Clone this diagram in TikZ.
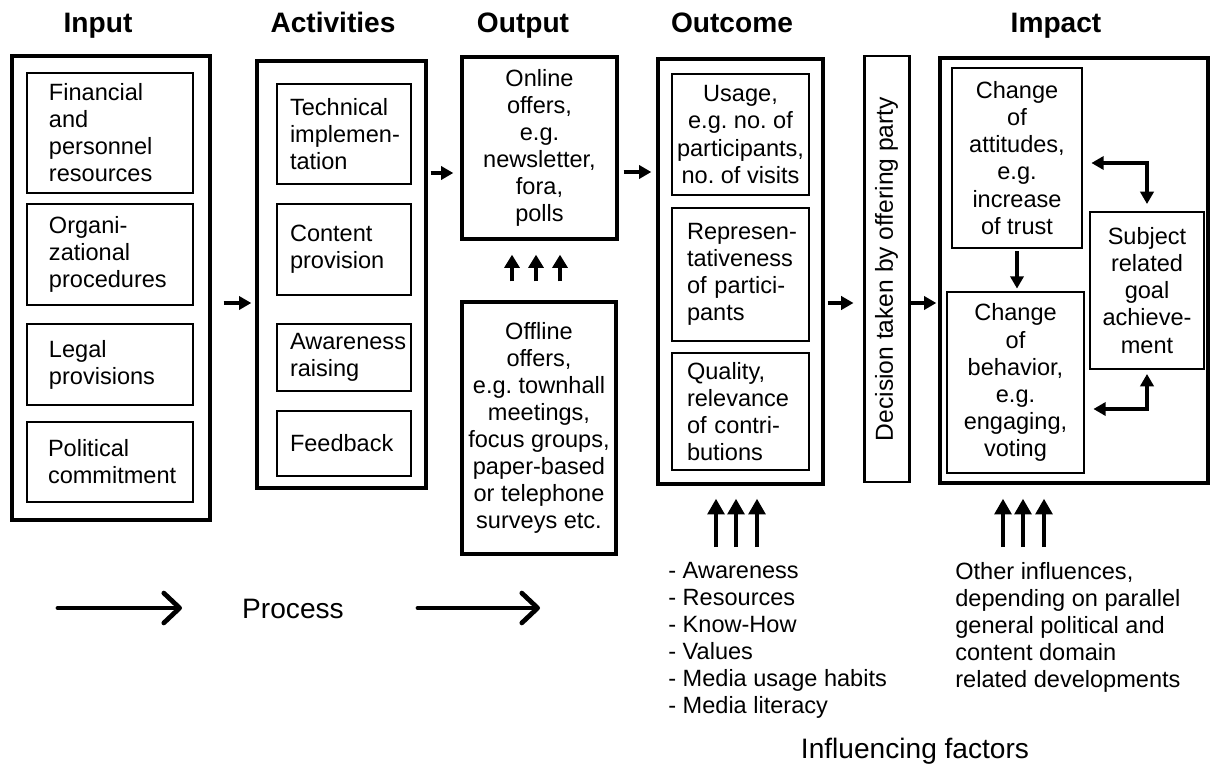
\documentclass[tikz,border=0pt]{standalone}
\usepackage{fontspec}
\setmainfont{Liberation Sans}
\usetikzlibrary{arrows.meta, positioning, calc}
\newdimen\px
\px=0.02cm
\hyphenpenalty=10000
\exhyphenpenalty=10000
\frenchspacing
\newcommand{\boxfont}{\fontsize{13.4}{15.4}\selectfont}
\tikzset{
	outerbox/.style={draw, line width=1.9pt, inner sep=0pt},
	thinbox/.style={draw, line width=1.1pt, inner xsep=2pt, align=center, font=\boxfont},
	midbox/.style={draw, line width=1.6pt, inner xsep=2pt, align=center, font=\boxfont},
	head/.style={anchor=base, font=\bfseries\fontsize{16}{19}\selectfont},
	big/.style={anchor=base, font=\fontsize{16}{19}\selectfont},
	factor/.style={anchor=north west, align=left, inner sep=0pt, font=\boxfont},
	conn/.style={line width=1.8pt, -{Triangle[length=7pt, width=7.5pt]}},
	elbow/.style={line width=1.8pt, {Triangle[length=7pt, width=7.5pt]}-{Triangle[length=7pt, width=7.5pt]}},
	smallup/.style={line width=2pt, -{Triangle[length=7.5pt, width=8.5pt]}},
	bigup/.style={line width=2.5pt, -{Triangle[length=9pt, width=9.5pt]}},
	processarrow/.style={line width=2.7pt, line cap=round, -{Straight Barb[length=9pt, width=17pt, line cap=round, line join=round]}}
}

\begin{document}
\begin{tikzpicture}[x=0.02cm, y=-0.02cm]
	\path[use as bounding box, fill=white] (0,0) rectangle (1210,767);
	\node[head] (hinput) at (98,33) {Input};
	\node[head] (hactivities) at (333,33) {Activities};
	\node[head] (houtput) at (523,33) {Output};
	\node[head] (houtcome) at (732,33) {Outcome};
	\node[head] (himpact) at (1056,33) {Impact};

	\node[outerbox, minimum width=198\px, minimum height=464\px] (input) at (111,288) {};
	\node[thinbox, align=left, inner xsep=22\px, text width=122\px, minimum height=120\px] (finance) at (110,133) {Financial\\and\\personnel\\resources};
	\node[thinbox, align=left, inner xsep=22\px, text width=122\px, minimum height=101\px] (procedures) at (110,254.5) {Organi-\\zational\\procedures};
	\node[thinbox, align=left, inner xsep=22\px, text width=122\px, minimum height=81\px] (legal) at (110,364.5) {Legal\\provisions};
	\node[thinbox, align=left, inner xsep=21\px, text width=124\px, minimum height=80\px] (politics) at (110,462) {Political\\commitment};

	\node[outerbox, minimum width=169\px, minimum height=427\px] (activities) at (341.5,274.5) {};
	\node[thinbox, align=left, inner xsep=13\px, text width=108\px, minimum height=100\px] (technical) at (344,134) {Technical\\implemen-\\tation};
	\node[thinbox, align=left, inner xsep=13\px, text width=108\px, minimum height=91\px] (content) at (344,249.5) {Content\\provision};
	\node[thinbox, align=left, inner xsep=13\px, text width=108\px, minimum height=67\px] (awareness) at (344,357.5) {Awareness\\raising};
	\node[thinbox, align=left, inner xsep=13\px, text width=108\px, minimum height=65\px] (feedback) at (344,443.5) {Feedback};

	\node[outerbox, font=\boxfont, align=center, minimum width=155\px, minimum height=182\px] (online) at (539.5,148) {Online\\offers,\\e.g.\\newsletter,\\fora,\\polls};
	\node[outerbox, font=\boxfont, align=center, minimum width=154\px, minimum height=252\px] (offline) at (539,428) {Offline\\offers,\\e.g. townhall\\meetings,\\focus groups,\\paper-based\\or telephone\\surveys etc.};

	\node[outerbox, minimum width=165\px, minimum height=425\px] (outcome) at (740.5,271.5) {};
	\node[midbox, minimum width=137\px, minimum height=121\px] (usage) at (740.5,134.5) {Usage,\\e.g. no. of\\participants,\\no. of visits};
	\node[midbox, align=left, inner xsep=15\px, text width=107\px, minimum height=133\px] (represent) at (740.5,274.5) {Represen-\\tativeness\\of partici-\\pants};
	\node[midbox, align=left, inner xsep=15\px, text width=107\px, minimum height=117\px] (quality) at (740.5,411.5) {Quality,\\relevance\\of contri-\\butions};

	\node[outerbox, line width=1.7pt, rotate=90, font=\fontsize{14}{17}\selectfont, minimum width=426\px, minimum height=45\px] (decision) at (886.5,269) {Decision taken by offering party};

	\node[outerbox, minimum width=268\px, minimum height=425\px] (impact) at (1074,270.5) {};
	\node[midbox, minimum width=130\px, minimum height=180\px] (attitude) at (1017,158) {Change\\of\\attitudes,\\e.g.\\increase\\of trust};
	\node[midbox, minimum width=137\px, minimum height=181\px] (behavior) at (1015.5,382.5) {Change\\of\\behavior,\\e.g.\\engaging,\\voting};
	\node[thinbox, minimum width=114\px, minimum height=157\px] (subject) at (1147,290.5) {Subject\\related\\goal\\achieve-\\ment};

	\draw[conn, shorten <=12\px, shorten >=4\px] ([yshift=-15\px]input.east) -- ([yshift=-15\px]input.east -| activities.west);
	\draw[conn, shorten <=3\px, shorten >=7\px] ([yshift=-25\px]online.west -| activities.east) -- ([yshift=-25\px]online.west);
	\draw[conn, shorten <=5\px, shorten >=5\px] ([yshift=-24\px]online.east) -- ([yshift=-24\px]online.east -| outcome.west);
	\draw[conn, shorten <=3\px, shorten >=9\px] ([yshift=-31.5\px]outcome.east) -- ([yshift=-31.5\px]outcome.east -| decision.north);
	\draw[conn, shorten >=2\px] ([yshift=-34\px]decision.south) -- ([yshift=-34\px]decision.south -| impact.west);
	\draw[conn, shorten <=2\px, shorten >=2\px] (attitude.south) -- (attitude.south |- behavior.north);
	\draw[elbow, shorten <=8\px, shorten >=7\px] ([yshift=-5\px]attitude.east) -| (subject.north);
	\draw[elbow, shorten <=4\px, shorten >=8\px] (subject.south) |- ([yshift=-26.5\px]behavior.east);

	\foreach \d in {-27,-3,21}{
		\draw[smallup, shorten <=19\px, shorten >=14\px] ([xshift=\d\px]offline.north) -- ([xshift=\d\px]offline.north |- online.south);
	}

	\coordinate (outfoot) at (736,547);
	\coordinate (impfoot) at (1023,547);
	\foreach \d in {-20,0,21}{
		\draw[bigup, shorten >=13\px] ([xshift=\d\px]outfoot) -- ([xshift=\d\px]outfoot |- outcome.south);
		\draw[bigup, shorten >=14\px] ([xshift=\d\px]impfoot) -- ([xshift=\d\px]impfoot |- impact.south);
	}

	\node[factor] (outfactors) at (668,562) {- Awareness\\- Resources\\- Know-How\\- Values\\- Media usage habits\\- Media literacy};
	\node[factor] (impfactors) at (955,562) {Other influences,\\depending on parallel\\general political and\\content domain\\related developments};
	\node[big] (influence) at (915,758) {Influencing factors};

	\node[big] (process) at (293,618) {Process};
	\coordinate (p1a) at (58,608);
	\coordinate (p1b) at (182,608);
	\coordinate (p2a) at (418,608);
	\coordinate (p2b) at (540,608);
	\draw[processarrow] (p1a) -- (p1b);
	\draw[processarrow] (p2a) -- (p2b);
\end{tikzpicture}
\end{document}
